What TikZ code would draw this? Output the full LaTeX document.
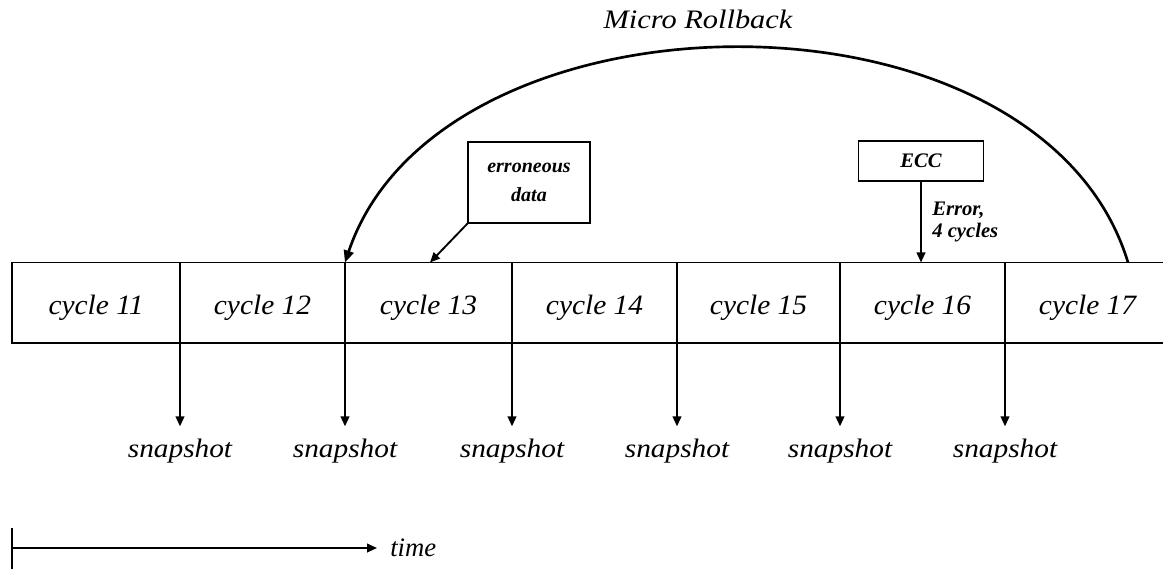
\documentclass[tikz,border=0pt]{standalone}
\usepackage{fontspec}
\setmainfont{Liberation Serif}
\usepackage{graphicx}
\usetikzlibrary{arrows.meta}
% horizontally widened italic labels
\newcommand\wideit[2][1.05]{\scalebox{#1}[1]{#2}}

\begin{document}
\begin{tikzpicture}[x=0.75pt,y=-0.75pt,
  rule/.style={line width=1.4pt},
  tip/.style={-{Triangle[length=7.5pt,width=6.5pt]}},
  bigtext/.style={font=\fontsize{20}{22}\selectfont\itshape},
  celltext/.style={font=\fontsize{21}{23}\selectfont\itshape},
  smalltext/.style={font=\fontsize{15.5}{16.5}\selectfont\bfseries\itshape},
  cell/.style={rule, draw, celltext, minimum height=60.4pt, inner sep=0pt,
    outer sep=0pt, text height=22pt, text depth=4pt},
  snap/.style={bigtext, anchor=base, inner xsep=0pt, inner ysep=8.9pt},
  infobox/.style={rule, draw, align=center, inner sep=0pt, outer sep=0pt}
]
\useasboundingbox (0,0) rectangle (1163,568);
\clip (0,0) rectangle (1163,568);

% clock cycles
\node[cell, minimum width=126pt]    (c11) at (96,302.75)   {\wideit{cycle 11}};
\node[cell, minimum width=123.75pt] (c12) at (262.5,302.75) {\wideit{cycle 12}};
\node[cell, minimum width=125.25pt] (c13) at (428.5,302.75) {\wideit{cycle 13}};
\node[cell, minimum width=123.75pt] (c14) at (594.5,302.75) {\wideit{cycle 14}};
\node[cell, minimum width=122.25pt] (c15) at (758.5,302.75) {\wideit{cycle 15}};
\node[cell, minimum width=123.75pt] (c16) at (922.5,302.75) {\wideit{cycle 16}};
\node[cell, minimum width=123.75pt] (c17) at (1087.5,302.75) {\wideit{cycle 17}};

% snapshots taken at every cycle boundary
\node[snap] (s1) at (180,457)  {\wideit[1.1]{snapshot}};
\node[snap] (s2) at (345,457)  {\wideit[1.1]{snapshot}};
\node[snap] (s3) at (512,457)  {\wideit[1.1]{snapshot}};
\node[snap] (s4) at (677,457)  {\wideit[1.1]{snapshot}};
\node[snap] (s5) at (840,457)  {\wideit[1.1]{snapshot}};
\node[snap] (s6) at (1005,457) {\wideit[1.1]{snapshot}};
\draw[rule, tip] (c11.south east) -- (s1.north);
\draw[rule, tip] (c12.south east) -- (s2.north);
\draw[rule, tip] (c13.south east) -- (s3.north);
\draw[rule, tip] (c14.south east) -- (s4.north);
\draw[rule, tip] (c15.south east) -- (s5.north);
\draw[rule, tip] (c16.south east) -- (s6.north);

% erroneous data entering in cycle 13
\node[infobox, smalltext, font=\fontsize{15}{22}\selectfont\bfseries\itshape,
  minimum width=91.5pt, minimum height=60.75pt] (err) at (529,182.5)
  {erroneous\\data};
\coordinate (errhit) at (430,262.5);
\draw[rule, tip] (err.south west) -- (errhit);

% ECC detection
\node[infobox, smalltext, minimum width=93.75pt, minimum height=30pt]
  (ecc) at (921,161) {ECC};
\draw[rule, tip] (ecc.south) -- (ecc.south |- c16.north);
\node[smalltext, align=left, anchor=west, inner sep=0pt] (errlbl) at (932,222)
  {Error,\\4 cycles};

% rollback to the last good snapshot
\coordinate (rbstart) at (1128,262.5);
\draw[line width=2pt, -{Triangle[length=9pt,width=7.5pt]}]
  (rbstart) .. controls (1040,-27) and (440,-20) .. (c13.north west);
\node[bigtext, anchor=base] (rblabel) at (698,28) {\wideit[1.14]{Micro Rollback}};

% time axis
\coordinate (ttop) at (12,528);
\coordinate (tbot) at (12,570);
\coordinate (t0) at (12,548);
\draw[rule] (ttop) -- (tbot);
\node[bigtext, anchor=west, inner xsep=9.75pt, inner ysep=0pt] (time) at (377,548)
  {time};
\draw[rule, tip] (t0) -- (time.west);
\end{tikzpicture}
\end{document}
